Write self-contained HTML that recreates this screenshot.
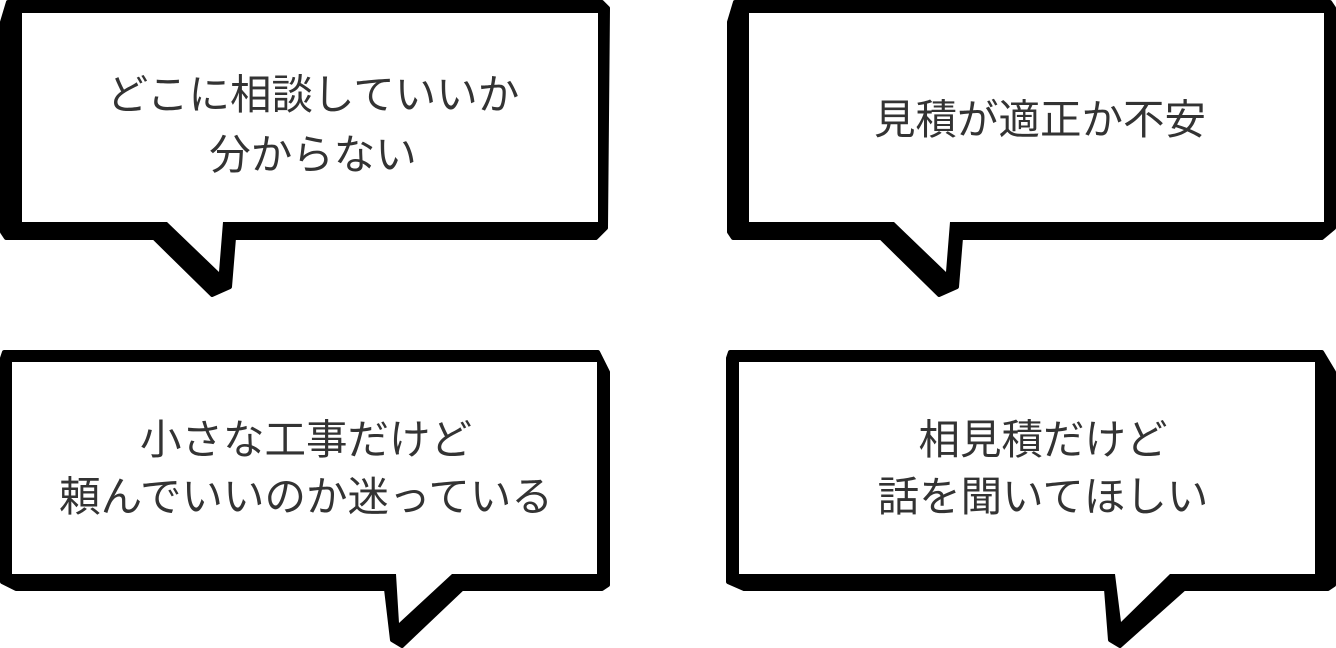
<!DOCTYPE html>
<html><head><meta charset="utf-8"><style>
html,body{margin:0;padding:0;background:#fff;width:1336px;height:648px;overflow:hidden}
svg{display:block}
text{font-family:"Liberation Sans","Noto Sans CJK JP",sans-serif;font-size:41.5px;fill:#333;text-anchor:middle}
</style></head><body>
<svg width="1336" height="648" viewBox="0 0 1336 648">
<!-- top-left -->
<polygon fill="#000" stroke="#000" stroke-width="4" stroke-linejoin="round" points="8,2 602,2 608,8 606,228 596,238 234,238 230,287 212,295 154,238 6,238 2,232 2,22"/>
<polygon fill="#fff" points="22,13 598,13 598,222 223,222 219,272 167,222 22,222"/>
<text x="313" y="109">どこに相談していいか</text>
<text x="313" y="169">分からない</text>
<!-- top-right -->
<polygon fill="#000" stroke="#000" stroke-width="4" stroke-linejoin="round" points="735,2 1330,2 1334,8 1334,228 1322,238 961,238 957,287 939,295 881,238 733,238 729,232 729,22"/>
<polygon fill="#fff" points="749,13 1324,13 1324,222 950,222 946,272 894,222 749,222"/>
<text x="1040" y="134">見積が適正か不安</text>
<!-- bottom-left -->
<polygon fill="#000" stroke="#000" stroke-width="4" stroke-linejoin="round" points="4,352 598,352 608,372 608,585 602,589 462,589 402,646 392,640 386,589 16,589 2,582 2,358"/>
<polygon fill="#fff" points="12,362 597,362 597,574 452,574 399,623 396,574 12,574"/>
<text x="306" y="454">小さな工事だけど</text>
<text x="306" y="511">頼んでいいのか迷っている</text>
<!-- bottom-right -->
<polygon fill="#000" stroke="#000" stroke-width="4" stroke-linejoin="round" points="730,352 1322,352 1334,372 1334,585 1328,589 1184,589 1120,646 1110,640 1106,589 744,589 728,582 728,358"/>
<polygon fill="#fff" points="739,362 1315,362 1315,574 1170,574 1121,622 1115,574 739,574"/>
<text x="1043" y="454">相見積だけど</text>
<text x="1043" y="511">話を聞いてほしい</text>
</svg>
</body></html>
